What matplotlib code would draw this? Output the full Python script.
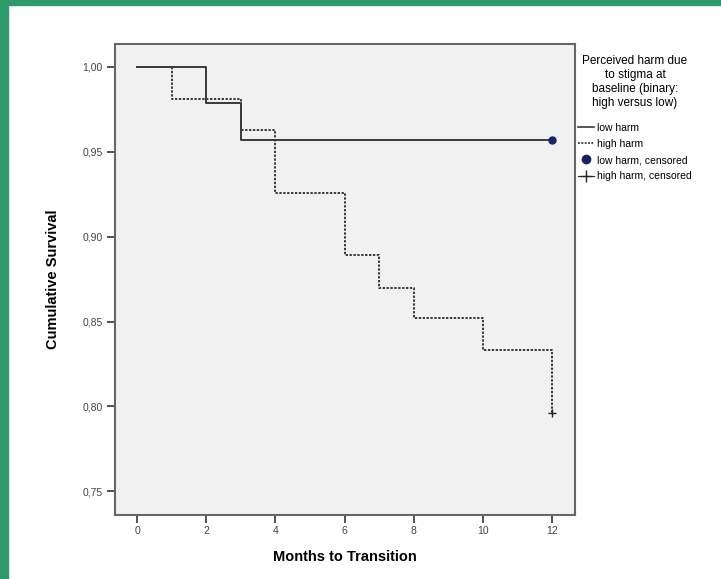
import matplotlib
matplotlib.use("Agg")
import matplotlib.pyplot as plt
from matplotlib.lines import Line2D
from matplotlib.patches import Rectangle

# Kaplan-Meier steps
low_t = [0, 2, 3, 12]
low_s = [1.000, 0.979, 0.957, 0.957]
high_t = [0, 1, 3, 4, 6, 7, 8, 10, 12]
high_s = [1.000, 0.981, 0.963, 0.926, 0.889, 0.870, 0.852, 0.833, 0.796]
low_cens = (12, 0.957)
high_cens = (12, 0.796)

xticks = [0, 2, 4, 6, 8, 10, 12]
yticks = [0.75, 0.80, 0.85, 0.90, 0.95, 1.00]

plt.rcParams['font.family'] = ['Liberation Sans', 'DejaVu Sans']

fig = plt.figure(figsize=(7.21, 5.79), dpi=100)
fig.patch.set_facecolor('white')
green = '#2e9a6b'
fig.patches.append(Rectangle((0, 0), 8/721, 1, transform=fig.transFigure, color=green, zorder=0))
fig.patches.append(Rectangle((0, 1-5/579), 1, 5/579, transform=fig.transFigure, color=green, zorder=0))

ax = fig.add_axes([115/721, 1-515/579, 460/721, 471/579])
ax.set_facecolor('#f1f1f1')

ax.step(low_t, low_s, where='post', color='#3a3a3a', lw=1.4, ls='-')
ax.step(high_t, high_s, where='post', color='#3a3a3a', lw=1.4, ls=(0, (1.2, 0.8)))
ax.plot(*low_cens, marker='o', color='#15226b', ms=5, ls='')
ax.plot(*high_cens, marker='+', color='#222222', ms=6, mew=1, ls='')

ax.set_xlim(-0.64, 12.66)
ax.set_ylim(0.736, 1.0135)
ax.set_xticks(xticks)
ax.set_yticks(yticks)
ax.set_xticklabels([str(v) for v in xticks], fontsize=7.5, color='#444')
ax.set_yticklabels([f'{v:.2f}'.replace('.', ',') for v in yticks], fontsize=7.5, color='#444')
ax.tick_params(direction='out', length=6, width=1.3, color='#444', pad=3)
ax.tick_params(axis='x', pad=2)
for s in ax.spines.values():
    s.set_color('#666666')
    s.set_linewidth(1.5)

ax.set_xlabel('Months to Transition', fontsize=10.5, fontweight='bold', labelpad=10)
ax.set_ylabel('Cumulative Survival', fontsize=10.5, fontweight='bold', labelpad=16)

handles = [
    Line2D([], [], color='#3a3a3a', lw=1.2, ls='-'),
    Line2D([], [], color='#3a3a3a', lw=1.2, ls=(0, (1.2, 0.8))),
    Line2D([], [], color='#15226b', marker='o', ms=6, ls=''),
    Line2D([], [], color='#222222', marker='+', ms=8, ls='-', lw=0.8),
]
labels = ['low harm', 'high harm', 'low harm, censored', 'high harm, censored']
leg = ax.legend(handles, labels, loc='upper left', bbox_to_anchor=(0.998, 0.985),
                frameon=False, fontsize=7.5, handlelength=1.5, handletextpad=0.3,
                borderaxespad=0, labelspacing=0.6,
                title='Perceived harm due\nto stigma at\nbaseline (binary:\nhigh versus low)',
                title_fontsize=8.5)
leg.get_title().set_ha('center')
leg.get_title().set_linespacing(1.2)
leg._legend_box.align = 'center'
leg._legend_box.sep = 10

fig.savefig('out.png', dpi=100)
